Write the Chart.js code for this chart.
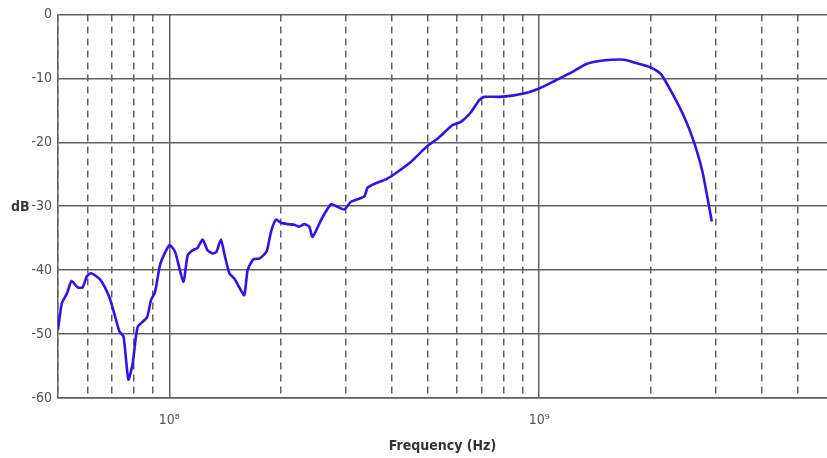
<!DOCTYPE html>
<html>
<head>
<meta charset="utf-8">
<script src="https://cdn.jsdelivr.net/npm/chart.js@4.4.1/dist/chart.umd.min.js"></script>
<style>
  html, body { margin: 0; padding: 0; background: #fff; }
  #wrap { width: 827px; height: 458px; position: relative; }
</style>
</head>
<body>
<div id="wrap"><canvas id="resposta"></canvas></div>
<script>
// frequencia em MHz, ganho em dB
const freqMHz = [50, 51.2, 52.9, 54.4, 56.5, 58.3, 59.8, 61.4, 65.1, 68.8, 71.0, 73.3, 75.2, 77.5, 79.6, 82.1, 87.0, 89.2, 91.5, 94.6,
  100, 103.6, 109.1, 112.1, 115.6, 119.3, 123.0, 126.9, 130.9, 134.2, 137.9, 140.8, 145.3, 149.9, 154.6, 159.5, 162.8, 168.7, 175.1, 183.2,
  188.3, 194.2, 200.4, 208.8, 217.7, 224.6, 231.7, 239.0, 243.9, 257.0, 273.5, 285.0, 297.2, 309.8, 336.5, 343.5, 362.0, 385.2, 405.6, 445.4,
  494.1, 536.8, 583.1, 614.3, 653.8, 688.4, 710.2, 779.6, 847.0, 920.6, 1000, 1109.7, 1230.3, 1337.6, 1452.9, 1578.2, 1696.6, 1825.5, 2004, 2132,
  2292, 2465, 2612, 2763, 2929];
const gainDb = [-49.3, -45.2, -43.6, -41.7, -42.7, -42.7, -41.0, -40.5, -41.5, -44.2, -46.8, -49.6, -50.4, -57.1, -54.6, -48.9, -47.4, -44.7, -43.4, -39.0,
  -36.1, -37.1, -41.8, -37.7, -36.9, -36.5, -35.2, -36.9, -37.4, -37.1, -35.2, -37.4, -40.5, -41.3, -42.7, -43.9, -40.0, -38.3, -38.2, -37.1,
  -34.0, -32.1, -32.6, -32.8, -32.9, -33.2, -32.8, -33.2, -34.8, -32.2, -29.7, -30.1, -30.5, -29.3, -28.5, -27.1, -26.4, -25.8, -25.0, -23.3,
  -20.8, -19.2, -17.3, -16.8, -15.3, -13.4, -12.9, -12.9, -12.7, -12.3, -11.6, -10.3, -9.0, -7.8, -7.3, -7.1, -7.1, -7.6, -8.3, -9.3,
  -12.4, -16.0, -19.7, -24.6, -32.4];

const xTickValues = [5e7, 6e7, 7e7, 8e7, 9e7, 1e8, 2e8, 3e8, 4e8, 5e8, 6e8, 7e8, 8e8, 9e8, 1e9, 2e9, 3e9, 4e9, 5e9];
const xTickLabels = { 1e8: '10⁸', 1e9: '10⁹' };
const yMin = -60, yMax = 0, yStep = 10;

const fonte = '"DejaVu Sans Condensed", "Liberation Sans Narrow", "Liberation Sans", Arial, sans-serif';
const corGrade = '#606060';

const isDecada = v => Math.abs(Math.log10(v) - Math.round(Math.log10(v))) < 1e-9;

const rotuloDb = {
  id: 'rotuloDb',
  afterDraw(chart) {
    const { ctx, scales } = chart;
    const y = scales.y.getPixelForValue(-30);
    ctx.save();
    ctx.font = 'bold 14px ' + fonte;
    ctx.fillStyle = '#3a3a3a';
    ctx.textAlign = 'left';
    ctx.textBaseline = 'middle';
    ctx.fillText('dB', 11, y + 1);
    ctx.restore();
  }
};

new Chart(document.getElementById('resposta'), {
  type: 'line',
  data: {
    datasets: [{
      label: 'Resposta',
      data: freqMHz.map((f, i) => ({ x: f * 1e6, y: gainDb[i] })),
      borderColor: 'rgb(51, 17, 238)',
      borderWidth: 2.6,
      pointRadius: 0,
      tension: 0.2,
      fill: false
    }]
  },
  options: {
    responsive: true,
    maintainAspectRatio: false,
    animation: false,
    layout: { padding: { top: 14, right: 0, left: 0, bottom: 0 } },
    plugins: { legend: { display: false }, tooltip: { enabled: false } },
    scales: {
      x: {
        type: 'logarithmic',
        min: 5e7,
        max: 6e9,
        afterBuildTicks: scale => { scale.ticks = xTickValues.map(v => ({ value: v })); },
        afterFit: scale => { scale.height = 60; },
        ticks: {
          autoSkip: false,
          maxRotation: 0,
          padding: 14,
          color: '#555',
          font: { family: fonte, size: 14 },
          callback: v => xTickLabels[v] || ''
        },
        grid: { color: corGrade, lineWidth: 1.5, drawTicks: false },
        border: {
          color: corGrade,
          width: 1.5,
          dash: ctx => (ctx.tick && !isDecada(ctx.tick.value) ? [7, 5] : [])
        },
        title: {
          display: true,
          text: 'Frequency (Hz)',
          color: '#333',
          font: { family: fonte, size: 14, weight: 'bold' },
          padding: { top: 0, bottom: 3 }
        }
      },
      y: {
        min: yMin,
        max: yMax,
        afterFit: scale => { scale.width = 58; },
        ticks: {
          stepSize: yStep,
          padding: 6,
          color: '#555',
          font: { family: fonte, size: 14 }
        },
        grid: { color: corGrade, lineWidth: 1.5, drawTicks: false },
        border: { color: corGrade, width: 1.5 }
      }
    }
  },
  plugins: [rotuloDb]
});
</script>
</body>
</html>
